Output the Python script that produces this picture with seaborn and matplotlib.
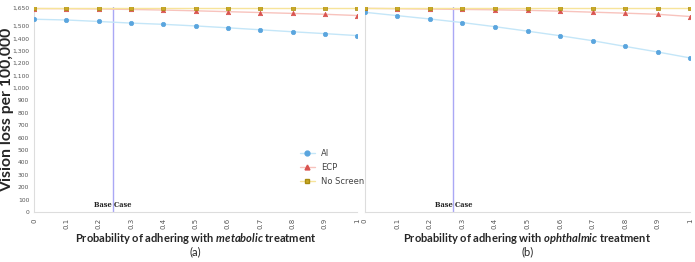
import numpy as np
import pandas as pd
import matplotlib.pyplot as plt
from matplotlib.lines import Line2D
import seaborn as sns

# 数据
probs = [0, 0.1, 0.2, 0.3, 0.4, 0.5, 0.6, 0.7, 0.8, 0.9, 1]
strategies = ['AI', 'ECP', 'No Screen']

# (a) metabolic
ai_metabolic = [1554, 1548, 1536, 1523, 1513, 1500, 1485, 1469, 1453, 1438, 1422]
ecp_metabolic = [1640, 1639, 1637, 1633, 1628, 1622, 1615, 1608, 1601, 1594, 1584]
noscreen_metabolic = [1645, 1645, 1645, 1645, 1645, 1645, 1645, 1645, 1645, 1645, 1645]

# (b) ophthalmic
ai_ophthalmic = [1610, 1583, 1556, 1527, 1494, 1458, 1421, 1381, 1335, 1290, 1242]
ecp_ophthalmic = [1642, 1639, 1636, 1633, 1630, 1626, 1619, 1611, 1603, 1594, 1576]
noscreen_ophthalmic = [1646, 1646, 1646, 1646, 1646, 1646, 1646, 1646, 1646, 1646, 1646]

base_case = [0.245, 0.272]
y_ticks = [0, 100, 200, 300, 400, 500, 600, 700, 800, 900, 1000, 1100, 1200, 1300, 1400, 1500, 1650]
x_ticks = probs
treatments = ['metabolic', 'ophthalmic']
panel_tags = ['(a)', '(b)']

line_colors = {'AI': '#c4e6f8', 'ECP': '#f8c3bd', 'No Screen': '#f7e49a'}
marker_colors = {'AI': '#5aa5de', 'ECP': '#d9534f', 'No Screen': '#c9a925'}
marker_edges = {'AI': '#5aa5de', 'ECP': '#d9534f', 'No Screen': '#a88b10'}
markers = {'AI': 'o', 'ECP': '^', 'No Screen': 's'}


def make_df(ai, ecp, ns):
    rows = []
    for name, vals in zip(strategies, [ai, ecp, ns]):
        for p, v in zip(probs, vals):
            rows.append({'prob': p, 'loss': v, 'strategy': name})
    return pd.DataFrame(rows)


dfs = [make_df(ai_metabolic, ecp_metabolic, noscreen_metabolic),
       make_df(ai_ophthalmic, ecp_ophthalmic, noscreen_ophthalmic)]

sns.set_style('white')
plt.rcParams['font.family'] = ['DejaVu Sans']
# 斜体粗体用 mathtext 实现
plt.rcParams['mathtext.fontset'] = 'custom'
plt.rcParams['mathtext.it'] = 'Lato:italic:bold'

fig = plt.figure(figsize=(6.95, 2.62), dpi=100)
axes = [fig.add_axes([0.049, 0.191, 0.465, 0.781]),
        fig.add_axes([0.525, 0.191, 0.468, 0.781])]

for i, ax in enumerate(axes):
    df = dfs[i]
    sns.lineplot(data=df, x='prob', y='loss', hue='strategy', palette=line_colors,
                 linewidth=1.0, legend=False, ax=ax, zorder=2)
    for s in strategies:
        sub = df[df['strategy'] == s]
        sns.scatterplot(data=sub, x='prob', y='loss', marker=markers[s], color=marker_colors[s],
                        edgecolor=marker_edges[s], linewidth=0.5, s=10, legend=False, ax=ax, zorder=3)

    # Base Case 竖线
    ax.axvline(base_case[i], color='#aaa8f5', linewidth=1.0, zorder=1)
    ax.text(base_case[i], 22, 'Base Case', family='DejaVu Serif', fontsize=4.8, fontweight='bold',
            ha='center', va='bottom', color='#222222', zorder=4)

    ax.set_xlim(0, 1.0)
    ax.set_ylim(0, 1650)
    ax.set_xticks(x_ticks)
    ax.set_xticklabels([f'{x:g}' for x in x_ticks], rotation=90, fontsize=5, color='#555555')
    ax.set_yticks(y_ticks)
    if i == 0:
        ax.set_yticklabels([f'{y:,}' for y in y_ticks], fontsize=4.3, color='#555555')
    else:
        ax.set_yticklabels([])
    ax.tick_params(axis='both', length=2, width=0.5, color='#cccccc', pad=2.5)
    ax.tick_params(axis='y', pad=1.5)
    for side in ['top', 'right']:
        ax.spines[side].set_visible(False)
    for side in ['left', 'bottom']:
        ax.spines[side].set_color('#dddddd')
        ax.spines[side].set_linewidth(0.8)

    ax.set_xlabel('')
    ax.set_ylabel('')
    cx = (ax.get_position().x0 + ax.get_position().x1) / 2
    fig.text(cx, 0.09, f'Probability of adhering with $\\it{{{treatments[i]}}}$ treatment',
             ha='center', va='center', fontsize=8, fontweight='bold', family='Lato')
    fig.text(cx, 0.038, panel_tags[i], ha='center', va='center', fontsize=8, family='Lato')

fig.text(0.0095, 0.58, 'Vision loss per 100,000', rotation=90, ha='center', va='center',
         fontsize=11.3, fontweight='bold', family='Lato')

handles = [Line2D([0], [0], color=line_colors[s], marker=markers[s], markerfacecolor=marker_colors[s],
                  markeredgecolor=marker_edges[s], markersize=3.5, linewidth=1.0) for s in strategies]
fig.legend(handles, strategies, loc='center', bbox_to_anchor=(0.478, 0.36), frameon=False,
           fontsize=6, handlelength=1.8, labelspacing=0.6, labelcolor='#444444')

fig.savefig('out.png', dpi=100)
